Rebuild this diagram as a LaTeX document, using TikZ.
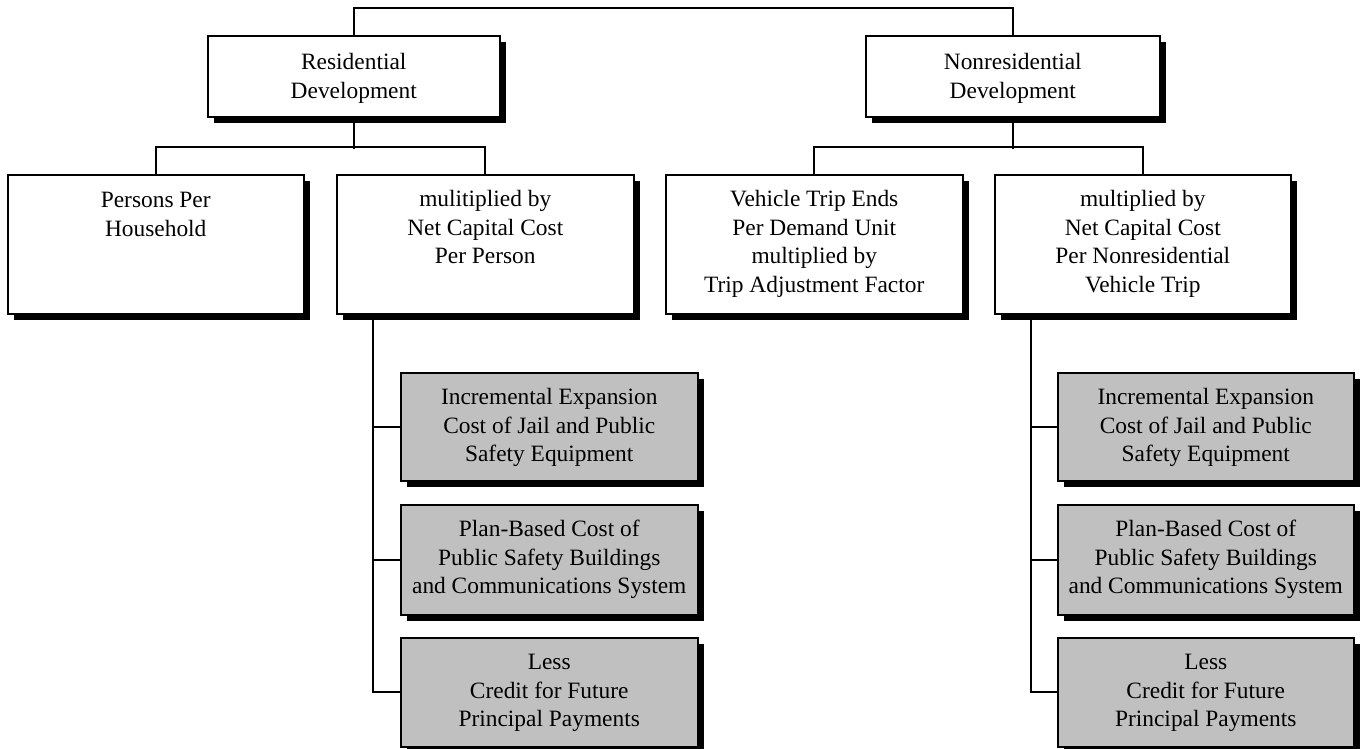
\documentclass[tikz,border=0pt]{standalone}
\usepackage{fontspec}
\setmainfont{Liberation Serif}
\usetikzlibrary{shadows}
\definecolor{boxgray}{HTML}{C0C0C0}
\newcommand{\bxt}[4]{\parbox[t][#2pt][t]{#1pt}{\centering\vspace*{#3pt}#4}}
\tikzset{
  x=1pt, y=-1pt,
  every node/.style={font=\fontsize{23.4}{28.5}\selectfont},
  box/.style={draw, line width=1.5pt, fill=white, inner sep=0pt, anchor=north west,
    general shadow={fill=black, shadow xshift=6pt, shadow yshift=-6pt}},
  graybox/.style={box, fill=boxgray},
  conn/.style={line width=1.6pt}
}
\begin{document}
\begin{tikzpicture}
\useasboundingbox (0,0) rectangle (1360,748);
% top level
\node[box] (res) at (207,35) {\bxt{292}{81}{14}{\strut Residential\\Development}};
\node[box] (nonres) at (865,35) {\bxt{294}{81}{14}{\strut Nonresidential\\Development}};
% second level
\node[box] (pph) at (7,174) {\bxt{296}{139}{13}{\strut Persons Per\\Household}};
\node[box] (mcc) at (336,174) {\bxt{297}{139}{12}{\strut mulitiplied by\\Net Capital Cost\\Per Person}};
\node[box] (vte) at (665,174) {\bxt{297}{139}{12}{\strut Vehicle Trip Ends\\Per Demand Unit\\multiplied by\\Trip Adjustment Factor}};
\node[box] (mnr) at (994,174) {\bxt{296}{139}{12}{\strut multiplied by\\Net Capital Cost\\Per Nonresidential\\Vehicle Trip}};
% gray boxes left
\node[graybox] (gl1) at (400,372) {\bxt{297}{108}{12}{\strut Incremental Expansion\\Cost of Jail and Public\\Safety Equipment}};
\node[graybox] (gl2) at (400,504) {\bxt{297}{110}{12}{\strut Plan-Based Cost of\\Public Safety Buildings\\and Communications System}};
\node[graybox] (gl3) at (400,637) {\bxt{297}{109}{12}{\strut Less\\Credit for Future\\Principal Payments}};
% gray boxes right
\node[graybox] (gr1) at (1057,372) {\bxt{296}{108}{12}{\strut Incremental Expansion\\Cost of Jail and Public\\Safety Equipment}};
\node[graybox] (gr2) at (1057,504) {\bxt{296}{110}{12}{\strut Plan-Based Cost of\\Public Safety Buildings\\and Communications System}};
\node[graybox] (gr3) at (1057,637) {\bxt{296}{109}{12}{\strut Less\\Credit for Future\\Principal Payments}};
% connectors
\draw[conn] (res.north) -- ++(0,-27) -| (nonres.north);
\draw[conn] (res.south) -- ++(0,31);
\draw[conn] (pph.north) -- ++(0,-27) -| (mcc.north);
\draw[conn] (nonres.south) -- ++(0,31);
\draw[conn] (vte.north) -- ++(0,-27) -| (mnr.north);
\coordinate (ls) at (373,313);
\coordinate (rs) at (1031,313);
\draw[conn] (ls) |- (gl3.west);
\draw[conn] (ls |- gl1.west) -- (gl1.west);
\draw[conn] (ls |- gl2.west) -- (gl2.west);
\draw[conn] (rs) |- (gr3.west);
\draw[conn] (rs |- gr1.west) -- (gr1.west);
\draw[conn] (rs |- gr2.west) -- (gr2.west);
\end{tikzpicture}
\end{document}
